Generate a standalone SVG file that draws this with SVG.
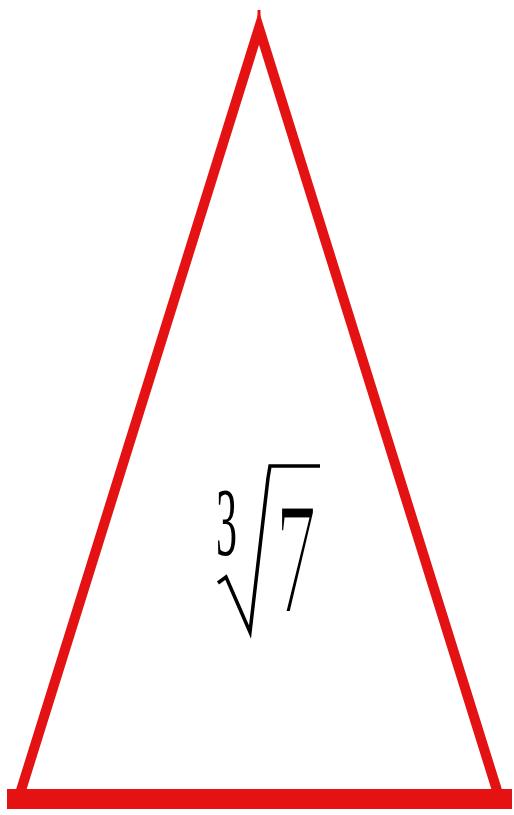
<svg xmlns="http://www.w3.org/2000/svg" width="514" height="815" viewBox="0 0 514 815">
<style>
.edge{fill:none;stroke:#e41212;stroke-linejoin:miter}
.math{font-family:"Liberation Serif","Times New Roman",serif;fill:#000}
</style>
<rect width="514" height="815" fill="#fff"/>
<g id="triangle">
<path class="edge" stroke-width="10" d="M18,800 L259,28 L500,800"/>
<line x1="259" y1="10" x2="259" y2="32" stroke="#e41212" stroke-width="3"/>
<line class="edge" x1="7" y1="799" x2="512" y2="799" stroke-width="20"/>
</g>
<g id="label">
<text class="math" font-size="42" transform="translate(216,555) scale(1,2.3)">3</text>
<path d="M218,583 L226,577 L250,632 L268,478 L270,466 L320,466" fill="none" stroke="#000" stroke-width="3.5"/>
<text class="math" font-size="80" transform="translate(276,613) scale(1,2)" stroke="#fff" stroke-width="2.5" vector-effect="non-scaling-stroke">7</text>
</g>
</svg>
